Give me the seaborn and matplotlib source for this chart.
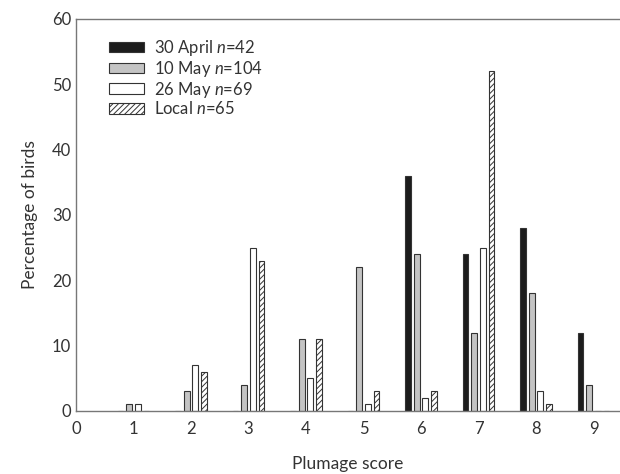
import pandas as pd
import matplotlib.pyplot as plt
import seaborn as sns

scores = [1, 2, 3, 4, 5, 6, 7, 8, 9]
groups = ["30 April $n$=42", "10 May $n$=104", "26 May $n$=69", "Local $n$=65"]
april30 = [0, 0, 0, 0, 0, 36, 24, 28, 12]
may10 = [1, 3, 4, 11, 22, 24, 12, 18, 4]
may26 = [1, 7, 25, 5, 1, 2, 25, 3, 0]
local = [0, 6, 23, 11, 3, 3, 52, 1, 0]

rows = []
for g, vals in zip(groups, [april30, may10, may26, local]):
    for s, v in zip(scores, vals):
        rows.append({"score": s, "pct": v, "group": g})
df = pd.DataFrame(rows)

sns.set_style("white")
plt.rcParams['font.family'] = ['Lato', 'DejaVu Sans']
plt.rcParams['mathtext.fontset'] = 'custom'
plt.rcParams['mathtext.it'] = 'Lato:italic'
plt.rcParams['text.color'] = '#333333'
plt.rcParams['axes.labelcolor'] = '#333333'
plt.rcParams['xtick.color'] = '#333333'
plt.rcParams['ytick.color'] = '#333333'
plt.rcParams['hatch.linewidth'] = 0.7

fig = plt.figure(figsize=(6.2, 4.74), dpi=100)
ax = fig.add_axes([0.1226, 0.133, 0.8774, 0.827])

palette = ['#1c1c1c', '#c4c4c4', 'white', 'white']
sns.barplot(data=df, x="score", y="pct", hue="group", native_scale=True,
            width=0.6, gap=0.33, palette=palette, edgecolor='#333333',
            linewidth=0.8, ax=ax)

for bar in ax.containers[3]:
    bar.set_hatch('//////')

ax.set_xlim(0, 9.46)
ax.set_ylim(0, 60)
ax.set_xticks(range(0, 10))
ax.set_yticks(range(0, 61, 10))
ax.tick_params(axis='y', direction='in', length=4, color='#999999', labelsize=12)
ax.tick_params(axis='x', length=0, labelsize=12, pad=7)
for s in ['left', 'top', 'bottom']:
    ax.spines[s].set_color('#777777')
    ax.spines[s].set_linewidth(1.0)
ax.spines['right'].set_visible(False)

ax.set_xlabel("Plumage score", fontsize=12.5, labelpad=14)
ax.set_ylabel("Percentage of birds", fontsize=12.5, labelpad=10)

leg = ax.legend(loc='upper left', bbox_to_anchor=(0.033, 0.99), frameon=False,
                fontsize=12, handlelength=2.1, handleheight=0.6,
                labelspacing=0.05, handletextpad=0.6)
for i, h in enumerate(leg.get_patches()):
    h.set_edgecolor('#333333')
    if i == 3:
        h.set_hatch('//////')

plt.savefig('out.png', dpi=100)
